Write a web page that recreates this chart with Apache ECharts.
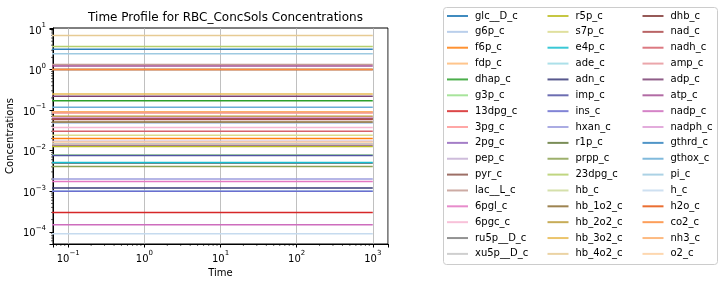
<!DOCTYPE html>
<html>
<head>
<meta charset="utf-8">
<script src="https://cdn.jsdelivr.net/npm/echarts@6/dist/echarts.min.js"></script>
<style>
  html, body { margin: 0; padding: 0; background: #fff; }
  #chart { width: 724px; height: 286px; }
</style>
</head>
<body>
<div id="chart"></div>
<script>
// metabolite names, in legend order (3 columns of 16)
const species = [
  "glc__D_c", "g6p_c", "f6p_c", "fdp_c", "dhap_c", "g3p_c", "13dpg_c", "3pg_c",
  "2pg_c", "pep_c", "pyr_c", "lac__L_c", "6pgl_c", "6pgc_c", "ru5p__D_c", "xu5p__D_c",
  "r5p_c", "s7p_c", "e4p_c", "ade_c", "adn_c", "imp_c", "ins_c", "hxan_c",
  "r1p_c", "prpp_c", "23dpg_c", "hb_c", "hb_1o2_c", "hb_2o2_c", "hb_3o2_c", "hb_4o2_c",
  "dhb_c", "nad_c", "nadh_c", "amp_c", "adp_c", "atp_c", "nadp_c", "nadph_c",
  "gthrd_c", "gthox_c", "pi_c", "h_c", "h2o_c", "co2_c", "nh3_c", "o2_c"
];
// steady concentrations (flat lines)
const concentrations = [
  1.0, 0.048, 0.020, 0.0146, 0.17, 0.0078, 0.0003, 0.085,
  0.0135, 0.017, 0.060, 1.34, 0.00175, 0.0375, 0.0049, 0.0148,
  0.0127, 0.024, 0.0051, 0.001, 0.0012, 0.0076, 0.001, 0.002,
  0.060, 0.0041, 3.7, 0.0596, 0.051, 0.071, 0.25, 6.9,
  0.063, 0.059, 0.030, 0.087, 0.22, 1.22, 0.00015, 0.066,
  3.15, 0.117, 2.45, 0.00009, 1.0, 1.0, 0.091, 0.0163
];
const timePoints = [0.01, 1000];

const palette = [
  "#1f77b4", "#aec7e8", "#ff7f0e", "#ffbb78", "#2ca02c", "#98df8a", "#d62728", "#ff9896",
  "#9467bd", "#c5b0d5", "#8c564b", "#c49c94", "#e377c2", "#f7b6d2", "#7f7f7f", "#c7c7c7",
  "#bcbd22", "#dbdb8d", "#17becf", "#9edae5", "#393b79", "#5254a3", "#6b6ecf", "#9c9ede",
  "#637939", "#8ca252", "#b5cf6b", "#cedb9c", "#8c6d31", "#bd9e39", "#e7ba52", "#e7cb94",
  "#843c39", "#ad494a", "#d6616b", "#e7969c", "#7b4173", "#a55194", "#ce6dbd", "#de9ed6",
  "#3182bd", "#6baed6", "#9ecae1", "#c6dbef", "#e6550d", "#fd8d3c", "#fdae6b", "#fdd0a2"
];

const FONT = "DejaVu Sans";

function powLabel(v) {
  const lg = Math.log10(v);
  const e = Math.round(lg);
  if (Math.abs(lg - e) > 1e-6) return "";
  return "{b|10}{s|" + (e < 0 ? "\u2212" + (-e) : e) + "}";
}
const powRich = {
  b: { fontSize: 10, fontFamily: FONT, color: "#000", lineHeight: 14, verticalAlign: "bottom" },
  s: { fontSize: 7, fontFamily: FONT, color: "#000", lineHeight: 6, verticalAlign: "top" }
};

const series = species.map((name, i) => ({
  name: name,
  type: "line",
  symbol: "none",
  silent: true,
  animation: false,
  lineStyle: { width: 1.5, color: palette[i] },
  itemStyle: { color: palette[i] },
  data: timePoints.map((t) => [t, concentrations[i]])
}));

const legendCols = [0, 1, 2].map((c) => ({
  orient: "vertical",
  left: [447, 547.5, 642.5][c],
  top: 10,
  itemWidth: 21,
  itemHeight: 12,
  itemGap: 3.86,
  padding: 0,
  icon: "path://M0,0L21,0L21,2L0,2Z",
  symbolKeepAspect: true,
  selectedMode: false,
  itemStyle: { opacity: 0.85 },
  textStyle: { fontFamily: FONT, fontSize: 10, color: "#000", lineHeight: 12, padding: [0, 0, 0, 2] },
  data: species.slice(c * 16, c * 16 + 16)
}));

const chart = echarts.init(document.getElementById("chart"));
chart.setOption({
  animation: false,
  color: palette,
  title: {
    text: "Time Profile for RBC_ConcSols Concentrations",
    left: 220.5,
    textAlign: "center",
    top: 7,
    textStyle: { fontFamily: FONT, fontSize: 12, fontWeight: "normal", color: "#000" }
  },
  grid: {
    left: 53, right: 336, top: 28, bottom: 42,
    show: true, borderColor: "#000", borderWidth: 1, backgroundColor: "transparent"
  },
  legend: legendCols,
  xAxis: {
    type: "log",
    logBase: 10,
    min: Math.pow(10, -1.2),
    max: Math.pow(10, 3.2),
    name: "Time",
    nameLocation: "middle",
    nameGap: 22,
    nameTextStyle: { fontFamily: FONT, fontSize: 10, color: "#000" },
    axisLine: { lineStyle: { color: "#000", width: 1 } },
    axisTick: { length: 3.5, lineStyle: { color: "#000" } },
    axisLabel: { formatter: powLabel, rich: powRich, margin: 6, showMinLabel: true, showMaxLabel: true },
    splitLine: { show: true, lineStyle: { color: "#b0b0b0", width: 0.8 } }
  },
  yAxis: {
    type: "log",
    logBase: 10,
    min: 5.0e-5,
    max: 10.6,
    name: "Concentrations",
    nameLocation: "middle",
    nameGap: 38,
    nameTextStyle: { fontFamily: FONT, fontSize: 10, color: "#000" },
    axisLine: { lineStyle: { color: "#000", width: 1 } },
    axisTick: { length: 3.5, lineStyle: { color: "#000" } },
    axisLabel: { formatter: powLabel, rich: powRich, margin: 7 },
    splitLine: { show: false }
  },
  series: series
});

// legend frame and minor ticks (drawn after layout)
function decorate() {
  const els = [{
    type: "rect",
    shape: { x: 443.5, y: 7.5, width: 274, height: 257, r: 3 },
    style: { fill: "rgba(255,255,255,0)", stroke: "#cccccc", lineWidth: 1 },
    z: -1
  }];
  const gx0 = 53, gy1 = 244;
  for (let e = -2; e <= 3; e++) {
    for (let k = 2; k <= 9; k++) {
      const v = k * Math.pow(10, e);
      const px = chart.convertToPixel({ xAxisIndex: 0 }, v);
      if (px > gx0 + 0.5 && px < 388) {
        els.push({ type: "line", shape: { x1: px, y1: gy1, x2: px, y2: gy1 + 2 }, style: { stroke: "#000", lineWidth: 0.6 }, silent: true });
      }
    }
  }
  for (let e = -5; e <= 1; e++) {
    for (let k = 2; k <= 9; k++) {
      const v = k * Math.pow(10, e);
      const py = chart.convertToPixel({ yAxisIndex: 0 }, v);
      if (py > 28 && py < gy1 - 0.5) {
        els.push({ type: "line", shape: { x1: gx0, y1: py, x2: gx0 - 2, y2: py }, style: { stroke: "#000", lineWidth: 0.6 }, silent: true });
      }
    }
  }
  chart.setOption({ graphic: els });
}
decorate();
</script>
</body>
</html>
